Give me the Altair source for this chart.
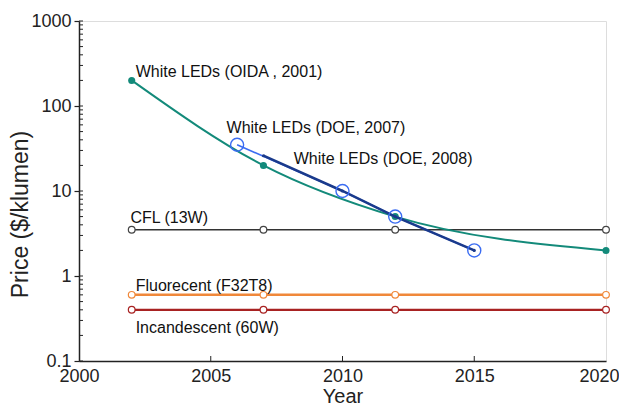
import altair as alt
import pandas as pd

# ---- data ----
oida_years = [2002, 2007, 2012, 2020]
oida_price = [200, 20, 5, 2]
doe07_years = [2006, 2010, 2012, 2015]
doe07_price = [35, 10, 5, 2]
doe08_years = [2007, 2010, 2012, 2015]
doe08_price = [26, 10, 5, 2]
ref_years = [2002, 2007, 2012, 2020]
cfl_price = [3.5, 3.5, 3.5, 3.5]
fluor_price = [0.6, 0.6, 0.6, 0.6]
incand_price = [0.4, 0.4, 0.4, 0.4]

label_text = ["White LEDs (OIDA , 2001)", "White LEDs (DOE, 2007)", "White LEDs (DOE, 2008)",
              "CFL (13W)", "Fluorecent (F32T8)", "Incandescent (60W)"]
label_year = [2002.15, 2005.6, 2008.15, 2001.95, 2002.15, 2002.15]
label_price = [250, 55, 24, 4.8, 0.76, 0.245]

x_ticks = [2000, 2005, 2010, 2015, 2020]
y_ticks = [0.1, 1, 10, 100, 1000]

W, H = 527, 340
FONT = "Liberation Sans"

xs = alt.Scale(domain=[2000, 2020], nice=False, zero=False)
ys = alt.Scale(type="log", domain=[0.1, 1000], nice=False)


def df(years, prices):
    return pd.DataFrame({"year": years, "price": prices})


def enc(axes=False):
    if axes:
        return dict(
            x=alt.X("year:Q", scale=xs, title="Year",
                    axis=alt.Axis(values=x_ticks, format="d", tickSize=0, labelPadding=6,
                                  labelAlign={"expr": "datum.value == 2020 ? 'right' : 'center'"},
                                  labelOffset={"expr": "datum.value == 2020 ? 13 : 0"},
                                  labelFontSize=18, labelFont=FONT, labelColor="#222",
                                  titleFontSize=20, titleFont=FONT, titleFontWeight="normal",
                                  titleColor="#222", titleY=41, titleBaseline="alphabetic",
                                  domainColor="#222", domainWidth=1.5, grid=False)),
            y=alt.Y("price:Q", scale=ys, title="Price ($/klumen)",
                    axis=alt.Axis(values=y_ticks, format="~g", tickSize=5, tickColor="#222",
                                  tickWidth=1.2, labelPadding=3,
                                  labelFontSize=18, labelFont=FONT, labelColor="#222",
                                  titleFontSize=23, titleFont=FONT, titleFontWeight="normal",
                                  titleColor="#222", titleX=-59, titleY=193,
                                  titleAngle=270, titleAlign="center", titleBaseline="middle",
                                  domainColor="#222", domainWidth=1.5, grid=False)),
        )
    return dict(x=alt.X("year:Q", scale=xs), y=alt.Y("price:Q", scale=ys))


def line(d, color, width, interp="linear", axes=False):
    return alt.Chart(d).mark_line(color=color, strokeWidth=width, interpolate=interp).encode(**enc(axes))


def open_pts(d, color, size, fill, sw=1.2):
    return alt.Chart(d).mark_point(shape="circle", size=size, filled=False, stroke=color,
                                   fill=fill, strokeWidth=sw, opacity=1, fillOpacity=1).encode(**enc())


def dots(d, color, size):
    return alt.Chart(d).mark_point(shape="circle", size=size, filled=True, color=color,
                                   opacity=1).encode(**enc())


# minor ticks inside the y axis
minor = []
for dec in [0.1, 1, 10, 100]:
    for k in range(1, 10):
        minor.append(round(dec * k, 6))
minor_df = pd.DataFrame({"price": minor + [1000]})
ytick_layer = alt.Chart(minor_df).mark_rule(color="#222", strokeWidth=1).encode(
    y=alt.Y("price:Q", scale=ys), x=alt.value(0), x2=alt.value(4))

xtick_df = pd.DataFrame({"year": [2005, 2010, 2015]})
xtick_layer = alt.Chart(xtick_df).mark_rule(color="#222", strokeWidth=1).encode(
    x=alt.X("year:Q", scale=xs), y=alt.value(H), y2=alt.value(H - 5))

cfl = df(ref_years, cfl_price)
flu = df(ref_years, fluor_price)
inc = df(ref_years, incand_price)
oida = df(oida_years, oida_price)
d07 = df(doe07_years, doe07_price)
d08 = df(doe08_years, doe08_price)

labels = pd.DataFrame({"year": label_year, "price": label_price, "text": label_text})
text_layer = alt.Chart(labels).mark_text(align="left", baseline="middle", font=FONT,
                                         fontSize=16, color="#111").encode(
    x=alt.X("year:Q", scale=xs), y=alt.Y("price:Q", scale=ys), text="text:N")

chart = alt.layer(
    line(cfl, "#333333", 1.5, axes=True),
    line(flu, "#f0883a", 2.5),
    line(inc, "#a82222", 2.2),
    open_pts(cfl, "#444444", 45, "white"),
    open_pts(flu, "#f0883a", 45, "white"),
    open_pts(inc, "#a82222", 45, "white"),
    line(oida, "#138a7a", 2, interp="monotone"),
    dots(oida, "#138a7a", 50),
    line(d07, "#3a6cf2", 1.6),
    line(d08, "#1a3a8c", 2.5),
    dots(d08, "#1a3a8c", 10),
    open_pts(d07, "#3a6cf2", 170, "transparent", sw=1.4),
    text_layer,
    ytick_layer,
    xtick_layer,
).properties(
    width=W, height=H,
    autosize=alt.AutoSizeParams(type="none"),
    padding={"left": 71, "top": 13, "right": 13, "bottom": 42},
).configure_view(stroke="#333", strokeWidth=1.6).configure(background="white")

chart.save("out.html", embed_options={"renderer": "svg", "actions": False})
